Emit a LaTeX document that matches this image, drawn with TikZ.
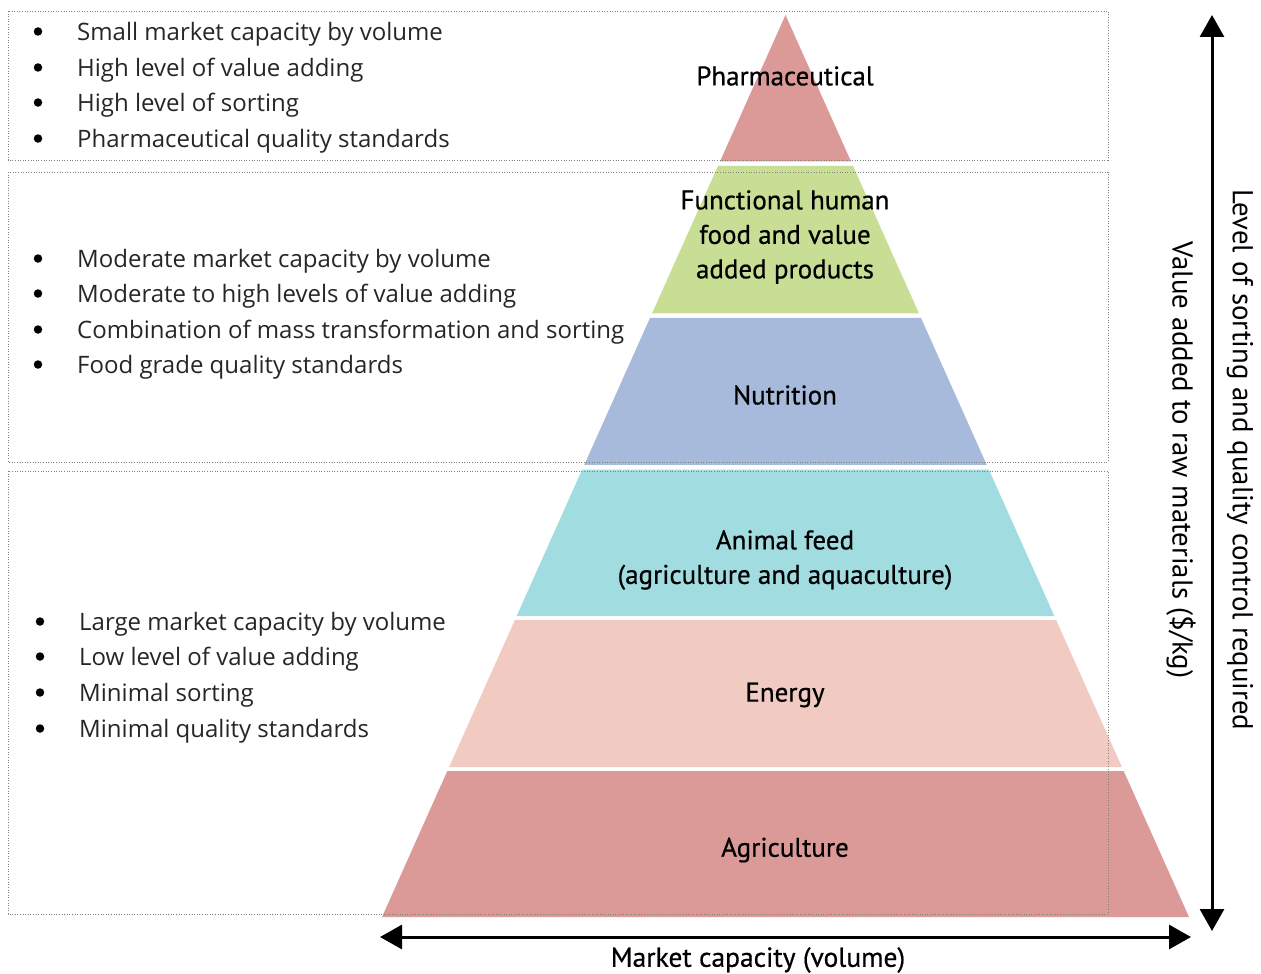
\documentclass[tikz,border=0pt]{standalone}
\usepackage{fontspec}
\setmainfont{Open Sans}
\newfontfamily\lab[FakeBold=0.6]{PT Sans}
\newfontfamily\axf{PT Sans}
\usetikzlibrary{calc,arrows.meta}
\definecolor{agri}{HTML}{DB9A98}
\definecolor{func}{HTML}{C9DE95}
\definecolor{nutr}{HTML}{A8BADB}
\definecolor{feed}{HTML}{A0DCE0}
\definecolor{ener}{HTML}{F1CBC2}
\definecolor{dotgray}{HTML}{808080}
\tikzset{
  boxline/.style={draw=dotgray, line width=0.9pt, dash pattern=on 1pt off 1.6pt},
  bul/.style={circle, fill=black, minimum size=8.5pt, inner sep=0pt},
  btxt/.style={font=\fontsize{24}{30}\selectfont, anchor=west, inner sep=0pt, text=black!85},
  lbl/.style={font=\lab\fontsize{27}{34.5}\selectfont, align=center, inner sep=0pt},
  axlbl/.style={font=\axf\fontsize{28.8}{30}\selectfont, inner sep=0pt},
  axis/.style={line width=3pt, {Triangle[width=24pt,length=22pt]}-{Triangle[width=24pt,length=22pt]}}
}
\newcommand{\band}[4]{%
  \fill[#3] ($(A)!{(#1-15)/902}!(BL)$) -- ($(A)!{(#1-15)/902}!(BR)$)
            -- ($(A)!{(#2-15)/902}!(BR)$) -- ($(A)!{(#2-15)/902}!(BL)$) -- cycle;
  \coordinate (#4) at ($($(A)!{(#1-15)/902}!(BL)$)!0.5!($(A)!{(#2-15)/902}!(BR)$)$);
}
\begin{document}
\begin{tikzpicture}[x=1pt,y=-1pt]
\useasboundingbox (0,0) rectangle (1261,974);
\coordinate (A) at (785.5,15);
\coordinate (BL) at (382,917);
\coordinate (BR) at (1189,917);
% pyramid bands
\band{15}{161.5}{agri}{c1}
\band{166}{313.5}{func}{c2}
\band{318}{465}{nutr}{c3}
\band{469.5}{616}{feed}{c4}
\band{620}{767}{ener}{c5}
\band{771}{917}{agri}{c6}
% dotted boxes
\draw[boxline] (8,11) rectangle (1108,160);
\draw[boxline] (8,172) rectangle (1108,462);
\draw[boxline] (8,471) rectangle (1108,914);
% pyramid labels
\node[lbl] (pharma) at (785,76) {Pharmaceutical};
\node[lbl] (funct) at (785,237) {Functional human\\food and value\\added products};
\node[lbl] (nutri) at (785,395) {Nutrition};
\node[lbl] (afeed) at (785,560) {Animal feed\\(agriculture and aquaculture)};
\node[lbl] (energy) at (785,695) {Energy};
\node[lbl] (agric) at (785,850) {Agriculture};
% bullets
\foreach \y/\t [count=\i] in {31/Small market capacity by volume,67/High level of value adding,102/High level of sorting,138/Pharmaceutical quality standards}{
  \node[bul] (ba\i) at (38,\y+0.5) {};
  \node[btxt] (ta\i) at (77,\y+3) {\t};
}
\foreach \y/\t [count=\i] in {258/Moderate market capacity by volume,293/Moderate to high levels of value adding,329/Combination of mass transformation and sorting,364/Food grade quality standards}{
  \node[bul] (bb\i) at (38,\y+0.5) {};
  \node[btxt] (tb\i) at (77,\y+3) {\t};
}
\foreach \y/\t [count=\i] in {621/Large market capacity by volume,656/Low level of value adding,692/Minimal sorting,728/Minimal quality standards}{
  \node[bul] (bc\i) at (40,\y+0.5) {};
  \node[btxt] (tc\i) at (79,\y+3) {\t};
}
% axes
\coordinate (vtop) at (1212,15);
\coordinate (vbot) at (1212,931);
\coordinate (hl) at (380,937);
\coordinate (hr) at (1191,937);
\draw[axis] (vbot) -- (vtop);
\draw[axis] (hl) -- (hr);
\node[axlbl, font=\lab\fontsize{27.5}{30}\selectfont] (mcap) at (758,960) {Market capacity (volume)};
\node[axlbl, rotate=-90] (lsort) at (1240,460) {Level of sorting and quality control required};
\node[axlbl, rotate=-90] (vadd) at (1181,460) {Value added to raw materials (\$/kg)};
\end{tikzpicture}
\end{document}
